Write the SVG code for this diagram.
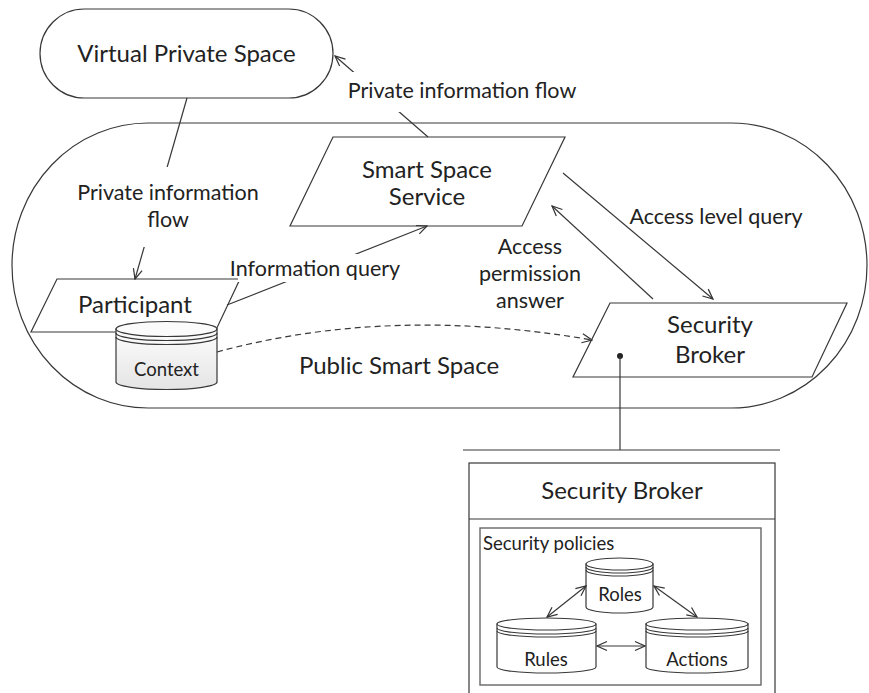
<svg xmlns="http://www.w3.org/2000/svg" width="869" height="693" viewBox="0 0 869 693">
<defs>
  <marker id="arr" viewBox="0 0 12 12" refX="11" refY="6" markerWidth="12" markerHeight="12" markerUnits="userSpaceOnUse" orient="auto-start-reverse">
    <path d="M1,1.5 L11,6 L1,10.5" fill="none" stroke="#333" stroke-width="1.2"/>
  </marker>
  <linearGradient id="cylg" x1="0" y1="0" x2="0" y2="1">
    <stop offset="0" stop-color="#fdfdfd"/>
    <stop offset="1" stop-color="#e4e4e4"/>
  </linearGradient>
  <style>
    .ln{fill:none;stroke:#383838;stroke-width:1.2}
    .sh{fill:#fff;stroke:#383838;stroke-width:1.2}
    .t{font-family:Lato,"Open Sans","Liberation Sans",sans-serif;fill:#222;text-anchor:middle}
    .big{font-size:24px}
    .mid{font-size:21.5px}
    .sm{font-size:18.5px}
    .bg{fill:#fff;stroke:none}
  </style>
</defs>
<rect width="869" height="693" fill="#fff"/>

<g id="public-smart-space">
  <rect x="12" y="123" width="855" height="285" rx="136" ry="142.5" class="sh"/>
  <text class="t big" x="399" y="374">Public Smart Space</text>
</g>

<g id="virtual-private-space">
  <rect x="40" y="9" width="293" height="89" rx="44.5" ry="44.5" class="sh"/>
  <text class="t big" x="186.5" y="62">Virtual Private Space</text>
</g>

<g id="smart-space-service">
  <polygon points="333,137 565,137 522,226 290,226" class="sh"/>
  <text class="t big" x="427" y="178">Smart Space</text>
  <text class="t big" x="427" y="205">Service</text>
</g>

<g id="participant">
  <polygon points="57,279 240,279 215,332 31,332" class="sh"/>
  <text class="t big" x="135" y="313">Participant</text>
</g>

<g id="context">
  <path d="M116,329 L116,382 A50.5,7.5 0 0 0 217,382 L217,329 Z" fill="url(#cylg)" stroke="#383838" stroke-width="1.2"/>
  <ellipse cx="166.5" cy="329" rx="50.5" ry="7.5" fill="#fbfbfb" stroke="#383838" stroke-width="1.2"/>
  <path d="M116,333 A50.5,7.5 0 0 0 217,333 M116,337 A50.5,7.5 0 0 0 217,337" class="ln"/>
  <text class="t sm" x="166.5" y="376">Context</text>
</g>

<g id="security-broker">
  <polygon points="610,303 847,303 812,377 573,377" class="sh"/>
  <text class="t big" x="710" y="333">Security</text>
  <text class="t big" x="710" y="363">Broker</text>
</g>

<g id="security-broker-detail">
  <rect x="469" y="463" width="306" height="240" class="sh"/>
  <line x1="469" y1="519" x2="775" y2="519" class="ln"/>
  <text class="t big" x="622" y="499">Security Broker</text>
  <rect x="480" y="528" width="281" height="157" fill="none" stroke="#666" stroke-width="1.4"/>
  <text class="t sm" x="483" y="550" style="text-anchor:start">Security policies</text>
</g>

<g id="roles">
  <path d="M586,564 L586,607 A33.5,6 0 0 0 653,607 L653,564 Z" class="sh"/>
  <ellipse cx="619.5" cy="564" rx="33.5" ry="6" class="sh"/>
  <path d="M586,567 A33.5,6 0 0 0 653,567 M586,570 A33.5,6 0 0 0 653,570" class="ln"/>
  <text class="t sm" x="620" y="601">Roles</text>
</g>

<g id="rules">
  <path d="M497,624 L497,667 A49.5,6 0 0 0 596,667 L596,624 Z" class="sh"/>
  <ellipse cx="546.5" cy="624" rx="49.5" ry="6" class="sh"/>
  <path d="M497,628 A49.5,6 0 0 0 596,628 M497,631 A49.5,6 0 0 0 596,631" class="ln"/>
  <text class="t sm" x="546" y="666">Rules</text>
</g>

<g id="actions">
  <path d="M646,624 L646,667 A51,6 0 0 0 748,667 L748,624 Z" class="sh"/>
  <ellipse cx="697" cy="624" rx="51" ry="6" class="sh"/>
  <path d="M646,628 A51,6 0 0 0 748,628 M646,631 A51,6 0 0 0 748,631" class="ln"/>
  <text class="t sm" x="697" y="666">Actions</text>
</g>

<g id="connectors">
  <line x1="428" y1="137" x2="335" y2="56" class="ln" marker-end="url(#arr)"/>
  <line x1="187" y1="98" x2="135" y2="279" class="ln" marker-end="url(#arr)"/>
  <line x1="227" y1="305" x2="427" y2="226" class="ln" marker-end="url(#arr)"/>
  <line x1="563" y1="173" x2="713" y2="299" class="ln" marker-end="url(#arr)"/>
  <line x1="653" y1="299" x2="552" y2="206" class="ln" marker-end="url(#arr)"/>
  <path d="M217,352 Q390,305 592,340" class="ln" stroke-dasharray="6,4" marker-end="url(#arr)"/>
  <circle cx="620" cy="356" r="3" fill="#222"/>
  <line x1="620" y1="356" x2="620" y2="450" class="ln"/>
  <line x1="463" y1="450" x2="780" y2="450" class="ln"/>
  <line x1="586" y1="586" x2="547" y2="617" class="ln" marker-start="url(#arr)" marker-end="url(#arr)"/>
  <line x1="654" y1="586" x2="697" y2="617" class="ln" marker-start="url(#arr)" marker-end="url(#arr)"/>
  <line x1="597" y1="646" x2="645" y2="646" class="ln" marker-start="url(#arr)" marker-end="url(#arr)"/>
</g>

<g id="labels">
  <rect x="346" y="72" width="236" height="40" class="bg"/>
  <text class="t mid" x="462" y="98">Private information flow</text>
  <rect x="76" y="167" width="186" height="80" class="bg"/>
  <text class="t mid" x="168" y="200">Private information</text>
  <text class="t mid" x="168" y="227">flow</text>
  <rect x="238" y="254" width="156" height="28" class="bg"/>
  <text class="t mid" x="315" y="276">Information query</text>
  <text class="t mid" x="716" y="224">Access level query</text>
  <text class="t mid" x="530" y="254">Access</text>
  <text class="t mid" x="530" y="281">permission</text>
  <text class="t mid" x="530" y="308">answer</text>
</g>
</svg>
